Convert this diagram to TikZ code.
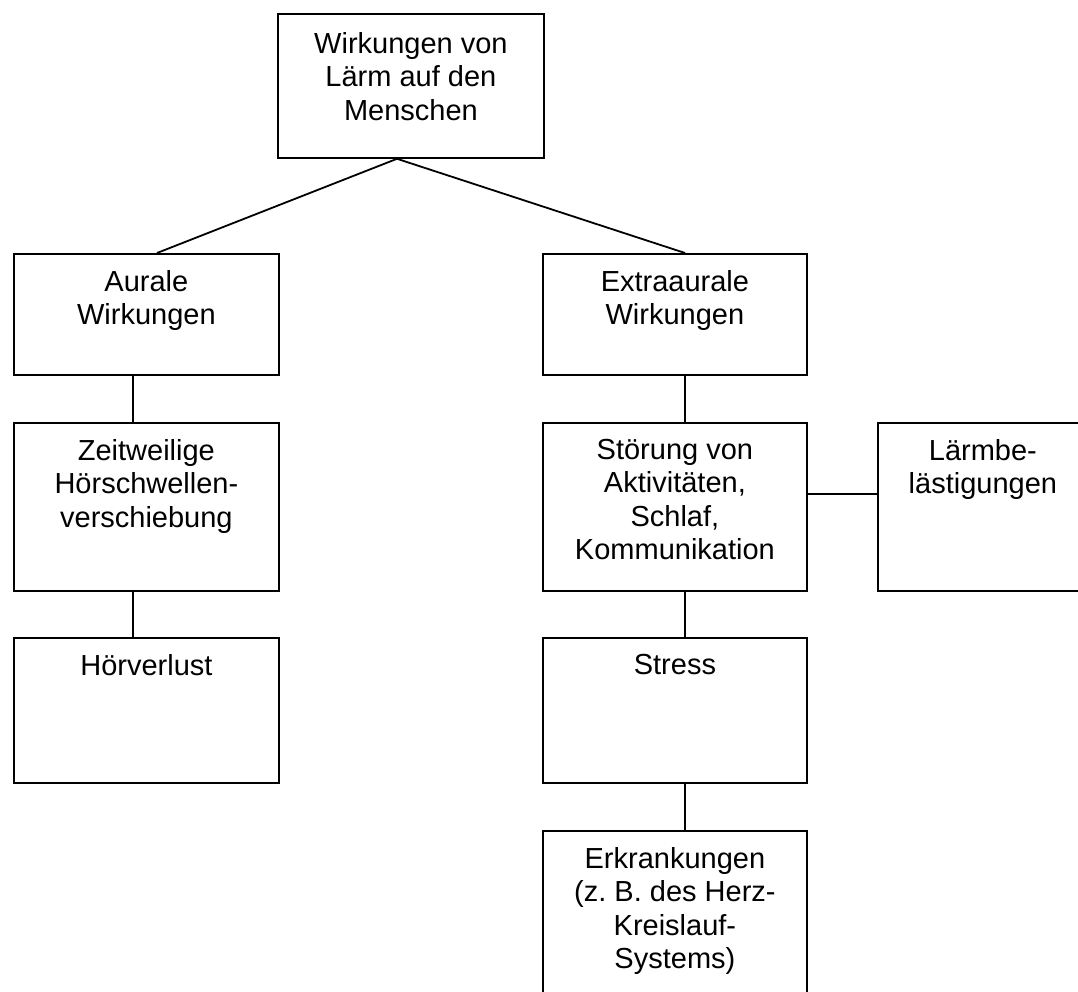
\documentclass[tikz,border=0pt]{standalone}
\usepackage{fontspec}
\setmainfont{Liberation Sans}
\frenchspacing
\begin{document}
\begin{tikzpicture}[x=1pt,y=-1pt,
  box/.style={draw=black, line width=1.8pt, rectangle, inner sep=0pt, anchor=north west},
  txt/.style={anchor=north, inner sep=0pt, align=center, font=\fontsize{29}{33.5}\selectfont},
  conn/.style={draw=black, line width=1.8pt}]
\useasboundingbox (0,0) rectangle (1078,992);
\clip (0,0) rectangle (1078,992);
% boxes
\node[box, minimum width=266pt, minimum height=144pt] (top) at (277,13) {};
\node[box, minimum width=265pt, minimum height=121pt] (aur) at (13,253) {};
\node[box, minimum width=264pt, minimum height=121pt] (ext) at (542,253) {};
\node[box, minimum width=265pt, minimum height=168pt] (zeit) at (13,422) {};
\node[box, minimum width=264pt, minimum height=168pt] (stor) at (542,422) {};
\node[box, minimum width=210pt, minimum height=168pt] (laerm) at (877,422) {};
\node[box, minimum width=265pt, minimum height=145pt] (hoer) at (13,637) {};
\node[box, minimum width=264pt, minimum height=145pt] (stress) at (542,637) {};
\node[box, minimum width=264pt, minimum height=190pt] (erk) at (542,830) {};
% texts
\node[txt] (topT) at ([yshift=-19pt]top.north) {Wirkungen von\\Lärm auf den\\Menschen};
\node[txt] (aurT) at ([yshift=-17pt]aur.north) {Aurale\\Wirkungen};
\node[txt] (extT) at ([yshift=-17pt]ext.north) {Extraaurale\\Wirkungen};
\node[txt] (zeitT) at ([yshift=-17pt]zeit.north) {Zeitweilige\\Hörschwellen-\\verschiebung};
\node[txt] (storT) at ([yshift=-17pt]stor.north) {Störung von\\Aktivitäten,\\Schlaf,\\Kommunikation};
\node[txt] (laermT) at ([yshift=-17pt]laerm.north) {Lärmbe-\\lästigungen};
\node[txt] (hoerT) at ([yshift=-17pt]hoer.north) {Hörverlust};
\node[txt] (stressT) at ([yshift=-17pt]stress.north) {Stress};
\node[txt] (erkT) at ([yshift=-17pt]erk.north) {Erkrankungen\\(z. B. des Herz-\\Kreislauf-\\Systems)};
% connector reference points
\coordinate (cA) at (397,0);
\coordinate (cL) at (133,0);
\coordinate (cLt) at (157,0);
\coordinate (cR) at (685,0);
% connectors
\draw[conn] (top.south -| cA) -- (aur.north -| cLt);
\draw[conn] (top.south -| cA) -- (ext.north -| cR);
\draw[conn] (aur.south -| cL) -- (zeit.north -| cL);
\draw[conn] (zeit.south -| cL) -- (hoer.north -| cL);
\draw[conn] (ext.south -| cR) -- (stor.north -| cR);
\draw[conn] (stor.south -| cR) -- (stress.north -| cR);
\draw[conn] (stress.south -| cR) -- (erk.north -| cR);
\draw[conn] (stor.east |- 0,494) -- (laerm.west |- 0,494);
\end{tikzpicture}
\end{document}
